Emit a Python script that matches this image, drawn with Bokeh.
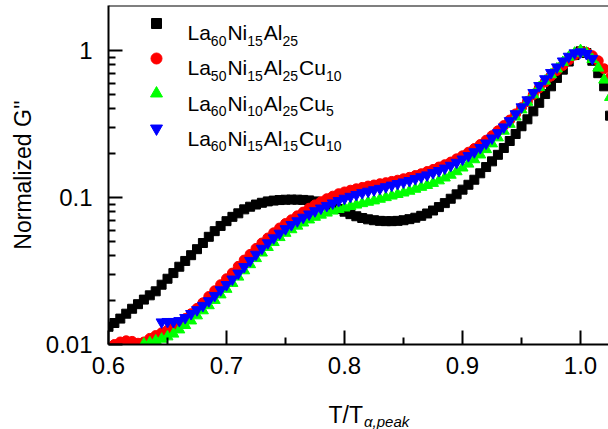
import math
from bokeh.plotting import figure
from bokeh.layouts import column
from bokeh.models import Range1d, FixedTicker, Label, Span
from bokeh.embed import file_html
from bokeh.resources import INLINE

# ---------------- data ----------------
black_x = [0.600,0.605,0.610,0.615,0.620,0.625,0.630,0.635,0.640,0.645,
           0.650,0.655,0.660,0.665,0.670,0.675,0.680,0.685,0.690,0.695,
           0.700,0.705,0.710,0.715,0.720,0.725,0.730,0.735,0.740,0.745,
           0.750,0.755,0.760,0.765,0.770,0.775,0.780,0.785,0.790,0.795,
           0.800,0.805,0.810,0.815,0.820,0.825,0.830,0.835,0.840,0.845,
           0.850,0.855,0.860,0.865,0.870,0.875,0.880,0.885,0.890,0.895,
           0.900,0.905,0.910,0.915,0.920,0.925,0.930,0.935,0.940,0.945,
           0.950,0.955,0.960,0.965,0.970,0.975,0.980,0.985,0.990,0.995,
           1.000,1.005,1.010,1.015,1.020,1.025]
black_y = [0.0132,0.0140,0.0150,0.0162,0.0175,0.0188,0.0202,0.0216,0.0230,0.0255,
           0.0280,0.0306,0.0338,0.0370,0.0405,0.0445,0.0490,0.0540,0.0590,0.0640,
           0.0690,0.0738,0.0780,0.0830,0.0865,0.0895,0.0920,0.0940,0.0952,0.0960,
           0.0965,0.0967,0.0966,0.0962,0.0955,0.0940,0.0920,0.0895,0.0865,0.0835,
           0.0800,0.0770,0.0745,0.0725,0.0710,0.0700,0.0693,0.0690,0.0690,0.0693,
           0.0700,0.0712,0.0728,0.0750,0.0778,0.0815,0.0860,0.0915,0.0980,0.1050,
           0.113,0.122,0.132,0.146,0.161,0.176,0.195,0.217,0.242,0.270,
           0.305,0.340,0.385,0.440,0.505,0.570,0.650,0.740,0.840,0.930,
           0.985,0.960,0.850,0.700,0.570,0.360]

red_x = [0.605,0.610,0.615,0.620,0.625,0.630,0.635,0.640,0.645,0.650,
         0.655,0.660,0.665,0.670,0.675,0.680,0.685,0.690,0.695,0.700,
         0.705,0.710,0.715,0.720,0.725,0.730,0.735,0.740,0.745,0.750,
         0.755,0.760,0.765,0.770,0.775,0.780,0.785,0.790,0.795,0.800,
         0.805,0.810,0.815,0.820,0.825,0.830,0.835,0.840,0.845,0.850,
         0.855,0.860,0.865,0.870,0.875,0.880,0.885,0.890,0.895,0.900,
         0.905,0.910,0.915,0.920,0.925,0.930,0.935,0.940,0.945,0.950,
         0.955,0.960,0.965,0.970,0.975,0.980,0.985,0.990,0.995,1.000,
         1.005,1.010,1.015,1.020,1.025]
red_y = [0.0100,0.0104,0.0106,0.0105,0.0102,0.0104,0.0110,0.0115,0.0120,0.0125,
         0.0131,0.0140,0.0150,0.0162,0.0176,0.0192,0.0212,0.0232,0.0255,0.0280,
         0.0306,0.0340,0.0375,0.0410,0.0450,0.0490,0.0530,0.0575,0.0620,0.0665,
         0.0705,0.0750,0.0795,0.0845,0.0890,0.0935,0.0980,0.1020,0.1060,0.1090,
         0.1120,0.1145,0.1170,0.1195,0.1215,0.1240,0.1260,0.1285,0.1310,0.1340,
         0.1370,0.1410,0.1450,0.1500,0.1550,0.1610,0.1670,0.1740,0.1830,0.1920,
         0.2030,0.2150,0.2290,0.2450,0.2630,0.2840,0.3080,0.3360,0.3700,0.4080,
         0.4500,0.5000,0.5550,0.6100,0.6700,0.7300,0.7900,0.8600,0.9300,0.9800,
         0.9700,0.9200,0.8500,0.7500,0.6500]

green_x = [0.630,0.635,0.640,0.645,0.650,0.655,0.660,0.665,0.670,0.675,
           0.680,0.685,0.690,0.695,0.700,0.705,0.710,0.715,0.720,0.725,
           0.730,0.735,0.740,0.745,0.750,0.755,0.760,0.765,0.770,0.775,
           0.780,0.785,0.790,0.795,0.800,0.805,0.810,0.815,0.820,0.825,
           0.830,0.835,0.840,0.845,0.850,0.855,0.860,0.865,0.870,0.875,
           0.880,0.885,0.890,0.895,0.900,0.905,0.910,0.915,0.920,0.925,
           0.930,0.935,0.940,0.945,0.950,0.955,0.960,0.965,0.970,0.975,
           0.980,0.985,0.990,0.995,1.000,1.005,1.010,1.015,1.020,1.025]
green_y = [0.0101,0.0103,0.0106,0.0109,0.0113,0.0118,0.0126,0.0135,0.0145,0.0157,
           0.0170,0.0184,0.0200,0.0218,0.0238,0.0261,0.0288,0.0318,0.0350,0.0385,
           0.0420,0.0458,0.0495,0.0535,0.0572,0.0605,0.0640,0.0672,0.0705,0.0735,
           0.0760,0.0785,0.0810,0.0830,0.0850,0.0870,0.0890,0.0910,0.0930,0.0950,
           0.0975,0.1000,0.1025,0.1050,0.1075,0.1105,0.1140,0.1175,0.1210,0.1250,
           0.1300,0.1360,0.1420,0.1500,0.1590,0.1690,0.1810,0.1950,0.2120,0.2320,
           0.2550,0.2830,0.3150,0.3530,0.3950,0.4450,0.5000,0.5600,0.6200,0.6850,
           0.7500,0.8300,0.9000,0.9600,1.0000,0.9600,0.8700,0.7600,0.6300,0.4800]

blue_x = [0.645,0.650,0.655,0.660,0.665,0.670,0.675,0.680,0.685,0.690,
          0.695,0.700,0.705,0.710,0.715,0.720,0.725,0.730,0.735,0.740,
          0.745,0.750,0.755,0.760,0.765,0.770,0.775,0.780,0.785,0.790,
          0.795,0.800,0.805,0.810,0.815,0.820,0.825,0.830,0.835,0.840,
          0.845,0.850,0.855,0.860,0.865,0.870,0.875,0.880,0.885,0.890,
          0.895,0.900,0.905,0.910,0.915,0.920,0.925,0.930,0.935,0.940,
          0.945,0.950,0.955,0.960,0.965,0.970,0.975,0.980,0.985,0.990,
          0.995,1.000,1.005,1.010]
blue_y = [0.0142,0.0143,0.0143,0.0145,0.0152,0.0162,0.0172,0.0184,0.0198,0.0215,
          0.0235,0.0255,0.0278,0.0305,0.0338,0.0372,0.0410,0.0450,0.0490,0.0530,
          0.0570,0.0612,0.0652,0.0692,0.0732,0.0770,0.0810,0.0845,0.0880,0.0915,
          0.0950,0.0985,0.1015,0.1045,0.1075,0.1100,0.1125,0.1150,0.1180,0.1210,
          0.1240,0.1270,0.1300,0.1340,0.1380,0.1420,0.1470,0.1520,0.1580,0.1650,
          0.1730,0.1820,0.1920,0.2040,0.2180,0.2340,0.2530,0.2750,0.3010,0.3320,
          0.3700,0.4120,0.4600,0.5150,0.5750,0.6400,0.7050,0.7700,0.8450,0.9100,
          0.9600,0.9750,0.9500,0.8800]

# legend entries: list of (text, is_subscript)
legend_labels = [
    [("La", 0), ("60", 1), ("Ni", 0), ("15", 1), ("Al", 0), ("25", 1)],
    [("La", 0), ("50", 1), ("Ni", 0), ("15", 1), ("Al", 0), ("25", 1), ("Cu", 0), ("10", 1)],
    [("La", 0), ("60", 1), ("Ni", 0), ("10", 1), ("Al", 0), ("25", 1), ("Cu", 0), ("5", 1)],
    [("La", 0), ("60", 1), ("Ni", 0), ("15", 1), ("Al", 0), ("15", 1), ("Cu", 0), ("10", 1)],
]
x_ticks = [0.6, 0.7, 0.8, 0.9, 1.0]
x_minor = [0.65, 0.75, 0.85, 0.95]
y_ticks = [0.01, 0.1, 1]
y_tick_labels = {0.01: "0.01", 0.1: "0.1", 1: "1"}
y_minor = [0.02, 0.03, 0.04, 0.05, 0.06, 0.07, 0.08, 0.09,
           0.2, 0.3, 0.4, 0.5, 0.6, 0.7, 0.8, 0.9]
y_label = "Normalized G''"
x_label_main = "T/T"
x_label_sub = "\u03b1,peak"

# ---------------- layout ----------------
X0, X1 = 0.6, 1.0237
Y0, Y1 = 0.01, 2.02
FW, FH = 500, 339
TOP, BOTTOM = 5, 53
FONT = "Liberation Sans"

p = figure(frame_width=FW, frame_height=FH, y_axis_type="log", title=None,
           x_range=Range1d(X0, X1), y_range=Range1d(Y0, Y1),
           output_backend="svg", toolbar_location=None,
           min_border_left=108, min_border_right=0,
           min_border_top=TOP, min_border_bottom=BOTTOM)
p.grid.visible = False
p.outline_line_color = None
p.background_fill_color = "white"
p.border_fill_color = "white"

p.add_layout(Span(location=Y1, dimension="width", line_color="black", line_width=2))

for ax in (p.xaxis[0], p.yaxis[0]):
    ax.axis_line_width = 2
    ax.axis_line_color = "black"
    ax.major_tick_in = 14
    ax.major_tick_out = 0
    ax.minor_tick_in = 7
    ax.minor_tick_out = 0
    ax.major_tick_line_width = 2
    ax.minor_tick_line_width = 2
    ax.major_tick_line_color = "black"
    ax.minor_tick_line_color = "black"
    ax.major_label_text_font = FONT
    ax.major_label_text_font_size = "24px"
    ax.major_label_text_color = "black"

p.xaxis.ticker = FixedTicker(ticks=x_ticks, minor_ticks=x_minor)
p.xaxis.major_label_overrides = {1.0: "1.0"}
p.xaxis.major_label_standoff = 12
p.yaxis.ticker = FixedTicker(ticks=y_ticks, minor_ticks=y_minor)
p.yaxis.major_label_overrides = y_tick_labels
p.yaxis.major_label_standoff = 16
p.yaxis.axis_label = y_label
p.yaxis.axis_label_text_font = FONT
p.yaxis.axis_label_text_font_size = "23px"
p.yaxis.axis_label_text_font_style = "normal"
p.yaxis.axis_label_text_color = "black"
p.yaxis.axis_label_standoff = 7

# ---------------- data markers ----------------
p.scatter(black_x, black_y, marker="square", size=9, color="black")
p.scatter(red_x, red_y, marker="circle", size=10, color="#ff0000")
p.scatter(green_x, green_y, marker="triangle", size=11, color="#00ff00")
p.scatter(blue_x, blue_y, marker="inverted_triangle", size=11, color="#0000ff")

# ---------------- legend (swatches + subscripted labels) ----------------
LY0, LY1 = math.log10(Y0), math.log10(Y1)
def dx(px):
    return X0 + px * (X1 - X0) / FW
def dy(py):
    return 10 ** (LY1 - py * (LY1 - LY0) / FH)

W = {"L": .556, "a": .556, "N": .722, "i": .222, "A": .667, "l": .222,
     "C": .722, "u": .556, "T": .611, "/": .278}
def width(s, size):
    return sum(W.get(c, .556) for c in s) * size

leg_markers = [("square", 10, "black"), ("circle", 11, "#ff0000"),
               ("triangle", 12, "#00ff00"), ("inverted_triangle", 12, "#0000ff")]
for i, (m, s, c) in enumerate(leg_markers):
    p.scatter([dx(48)], [dy(18 + 35 * i)], marker=m, size=s, color=c)

MAIN, SUB = 21, 14
for i, pieces in enumerate(legend_labels):
    xo = 79
    base = 27 + 35.3 * i
    for txt, sub in pieces:
        size = SUB if sub else MAIN
        p.add_layout(Label(x=X0, y=Y1, x_offset=xo, y_offset=-(base + (8 if sub else 0)),
                           text=txt, text_font=FONT, text_font_size=f"{size}px",
                           text_color="black", text_baseline="alphabetic",
                           text_align="left"))
        xo += width(txt, size) + (1 if sub else 0)

# ---------------- x axis title strip (T/T with subscript) ----------------
P_H = TOP + FH + BOTTOM
SH = 429 - P_H
p2 = figure(frame_width=FW, frame_height=SH, x_range=p.x_range, title=None,
            y_range=Range1d(0, SH), output_backend="svg", toolbar_location=None,
            min_border_left=108, min_border_right=0, min_border_top=0,
            min_border_bottom=0, x_axis_location=None, y_axis_location=None)
p2.grid.visible = False
p2.outline_line_color = None
p2.background_fill_color = "white"
p2.border_fill_color = "white"
main_base = 414 - P_H
p2.add_layout(Label(x=X0, y=SH, x_offset=220, y_offset=-main_base, text=x_label_main,
                    text_font=FONT, text_font_size="23px", text_color="black",
                    text_baseline="alphabetic", text_align="left"))
p2.add_layout(Label(x=X0, y=SH, x_offset=220 + width(x_label_main, 23) + 1,
                    y_offset=-(main_base + 7), text=x_label_sub,
                    text_font=FONT, text_font_size="15px", text_font_style="italic",
                    text_color="black", text_baseline="alphabetic", text_align="left"))

layout = column(p, p2, spacing=0)
open("out.html", "w").write(file_html(layout, INLINE))
